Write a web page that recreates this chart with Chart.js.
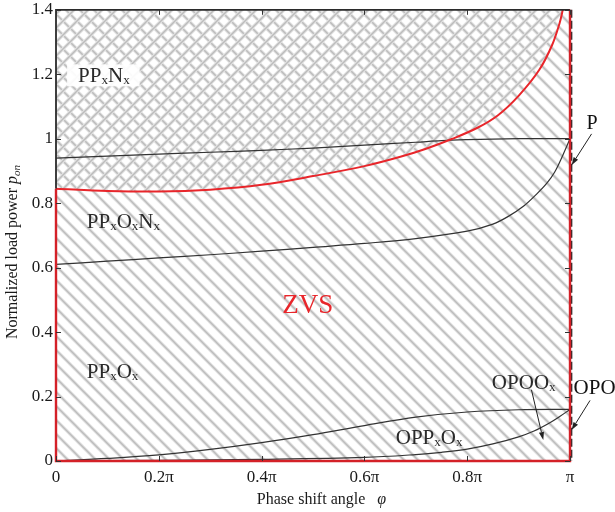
<!DOCTYPE html>
<html>
<head>
<meta charset="utf-8">
<script src="https://cdn.jsdelivr.net/npm/chart.js@4.4.0/dist/chart.umd.min.js"></script>
<style>
html,body{margin:0;padding:0;background:#fff;}
#wrap{width:615px;height:512px;position:relative;}
</style>
</head>
<body>
<div id="wrap"><canvas id="c" width="615" height="512"></canvas></div>
<script>
// ---------- data (phase shift in units of pi, normalized power) ----------
const xTickLabels = ['0', '0.2π', '0.4π', '0.6π', '0.8π', 'π'];
const yTickLabels = ['0', '0.2', '0.4', '0.6', '0.8', '1', '1.2', '1.4'];

// ZVS boundary (red)
const phiZvs = [0, 0.1, 0.2, 0.3, 0.4, 0.5, 0.6, 0.67, 0.72, 0.77, 0.82, 0.86, 0.9, 0.94, 0.965, 0.98, 0.986];
const pZvs   = [0.845, 0.838, 0.836, 0.842, 0.857, 0.884, 0.915, 0.944, 0.969, 0.999, 1.034, 1.073, 1.133, 1.213, 1.29, 1.36, 1.40];

// upper black boundary (PPxNx / P)
const phiUpper = [0, 0.1, 0.2, 0.3, 0.4, 0.5, 0.6, 0.7, 0.75, 0.8, 0.85, 0.9, 0.95, 1.0];
const pUpper   = [0.940, 0.946, 0.952, 0.958, 0.964, 0.971, 0.980, 0.989, 0.994, 0.997, 0.999, 1.0, 1.0, 1.0];

// middle black boundary (PPxOxNx)
const phiMid = [0, 0.1, 0.2, 0.3, 0.4, 0.5, 0.6, 0.7, 0.8, 0.85, 0.88, 0.91, 0.935, 0.955, 0.97, 0.985, 1.0];
const pMid   = [0.610, 0.620, 0.630, 0.640, 0.651, 0.663, 0.675, 0.690, 0.713, 0.735, 0.759, 0.791, 0.828, 0.862, 0.896, 0.945, 1.0];

// lower boundaries (OPPxOx, OPOOx)
const phiOppo = [0, 0.1, 0.2, 0.3, 0.4, 0.5, 0.6, 0.7, 0.8, 0.9, 1.0];
const pOppo   = [0.0, 0.008, 0.019, 0.036, 0.057, 0.082, 0.110, 0.136, 0.152, 0.159, 0.160];
const phiOpoo = [0, 0.2, 0.4, 0.6, 0.7, 0.75, 0.8, 0.85, 0.9, 0.93, 0.96, 0.98, 1.0];
const pOpoo   = [0.0, 0.002, 0.005, 0.011, 0.020, 0.027, 0.037, 0.053, 0.075, 0.093, 0.118, 0.138, 0.160];

// ---------- helpers ----------
const SERIF = '"Liberation Serif","Times New Roman",serif';
const pts = (xs, ys) => xs.map((x, i) => ({x: x, y: ys[i]}));

function hatchPattern(dir) {
  const s = 14;
  const c = document.createElement('canvas');
  c.width = s; c.height = s;
  const g = c.getContext('2d');
  const passes = [['#e4e4e4', 3.4], ['#bcbcbc', 1.5]];
  for (const [col, lw] of passes) {
    g.strokeStyle = col;
    g.lineWidth = lw;
    for (const k of [-s, 0, s]) {
      g.beginPath();
      if (dir > 0) { g.moveTo(k - 1, -1); g.lineTo(k + s + 1, s + 1); }
      else { g.moveTo(k - 1, s + 1); g.lineTo(k + s + 1, -1); }
      g.stroke();
    }
  }
  return g.createPattern(c, 'repeat');
}
const backHatch = hatchPattern(1);
const crossHatch = hatchPattern(-1);

function fontStr(seg) {
  return (seg.italic ? 'italic ' : '') + seg.size + 'px ' + SERIF;
}
function richWidth(ctx, segs) {
  let w = 0;
  for (const s of segs) { ctx.font = fontStr(s); s.w = ctx.measureText(s.t).width; w += s.w; }
  return w;
}
function drawRich(ctx, x, y, segs, color) {
  let cx = x;
  ctx.fillStyle = color;
  ctx.textBaseline = 'alphabetic';
  ctx.textAlign = 'left';
  for (const s of segs) {
    ctx.font = fontStr(s);
    ctx.fillText(s.t, cx, y + (s.dy || 0));
    cx += s.w;
  }
}
// label text with "_x" meaning subscript x
function segsFrom(str, size, subSize) {
  const out = [];
  const parts = str.split('_');
  out.push({t: parts[0], size: size});
  for (let i = 1; i < parts.length; i++) {
    out.push({t: parts[i][0], size: subSize, dy: 2});
    if (parts[i].length > 1) out.push({t: parts[i].slice(1), size: size});
  }
  return out;
}

// annotations: text positions in data coordinates
const annotations = [
  {text: 'PP_xN_x', phi: 0.043, p: 1.175, size: 21, color: '#2a2a2a', box: true},
  {text: 'PP_xO_xN_x', phi: 0.060, p: 0.722, size: 21, color: '#2a2a2a'},
  {text: 'PP_xO_x', phi: 0.060, p: 0.258, size: 21, color: '#2a2a2a'},
  {text: 'ZVS', phi: 0.440, p: 0.460, size: 27, color: '#e8262b'},
  {text: 'OPOO_x', phi: 0.848, p: 0.224, size: 21, color: '#2a2a2a'},
  {text: 'OPP_xO_x', phi: 0.661, p: 0.052, size: 21, color: '#2a2a2a'},
  {text: 'P', phi: 1.032, p: 1.031, size: 20, color: '#111'},
  {text: 'OPO', phi: 1.007, p: 0.208, size: 21, color: '#111'}
];
const arrows = [
  {from: [1.042, 1.015], to: [1.003, 0.918]},
  {from: [1.039, 0.188], to: [1.003, 0.096]},
  {from: [0.925, 0.221], to: [0.948, 0.065]}
];

const hatchPlugin = {
  id: 'hatchBg',
  beforeDraw(chart) {
    const {ctx, chartArea: a} = chart;
    ctx.save();
    ctx.fillStyle = '#fff';
    ctx.fillRect(0, 0, chart.width, chart.height);
    ctx.fillStyle = backHatch;
    ctx.fillRect(a.left, a.top, a.right - a.left, a.bottom - a.top);
    ctx.restore();
  }
};

const overlayPlugin = {
  id: 'overlay',
  afterDatasetsDraw(chart) {
    const {ctx, chartArea: a, scales: {x, y}} = chart;
    ctx.save();
    const yRedStart = y.getPixelForValue(pZvs[0]);
    ctx.lineCap = 'butt';
    ctx.strokeStyle = '#2b2b2b';
    ctx.lineWidth = 1.8;
    ctx.beginPath();
    ctx.moveTo(a.left, yRedStart); ctx.lineTo(a.left, a.top); ctx.lineTo(a.right, a.top);
    ctx.stroke();
    ctx.setLineDash([8, 3]);
    ctx.lineWidth = 1.5;
    ctx.beginPath();
    ctx.moveTo(a.right + 1.6, a.top); ctx.lineTo(a.right + 1.6, a.bottom);
    ctx.stroke();
    ctx.setLineDash([]);
    ctx.strokeStyle = '#d42128';
    ctx.lineWidth = 2.4;
    ctx.beginPath();
    ctx.moveTo(a.left, yRedStart); ctx.lineTo(a.left, a.bottom); ctx.lineTo(a.right, a.bottom); ctx.lineTo(a.right, a.top);
    ctx.stroke();
    ctx.strokeStyle = '#333';
    ctx.lineWidth = 1;
    ctx.beginPath();
    for (let v = 0; v <= 1.4001; v += 0.2) {
      const py = Math.round(y.getPixelForValue(v)) + 0.5;
      ctx.moveTo(a.left, py); ctx.lineTo(a.left + 5, py);
      ctx.moveTo(a.right - 5, py); ctx.lineTo(a.right, py);
    }
    for (let v = 0; v <= 1.0001; v += 0.2) {
      const px = Math.round(x.getPixelForValue(v)) + 0.5;
      ctx.moveTo(px, a.bottom); ctx.lineTo(px, a.bottom - 5);
      ctx.moveTo(px, a.top); ctx.lineTo(px, a.top + 5);
    }
    ctx.stroke();
    ctx.restore();
  },
  afterDraw(chart) {
    const {ctx, scales: {x, y}} = chart;
    ctx.save();
    for (const an of annotations) {
      const segs = segsFrom(an.text, an.size, Math.round(an.size * 0.62));
      const w = richWidth(ctx, segs);
      const px = x.getPixelForValue(an.phi), py = y.getPixelForValue(an.p);
      if (an.box) {
        ctx.fillStyle = 'rgba(255,255,255,0.92)';
        ctx.fillRect(px - 11, py - 18, w + 21, 22);
      }
      drawRich(ctx, px, py, segs, an.color);
    }
    ctx.strokeStyle = '#222';
    ctx.fillStyle = '#222';
    ctx.lineWidth = 1;
    for (const ar of arrows) {
      const x0 = x.getPixelForValue(ar.from[0]), y0 = y.getPixelForValue(ar.from[1]);
      const x1 = x.getPixelForValue(ar.to[0]), y1 = y.getPixelForValue(ar.to[1]);
      const ang = Math.atan2(y1 - y0, x1 - x0);
      const L = 8, W = 2.6;
      const bx = x1 - L * Math.cos(ang), by = y1 - L * Math.sin(ang);
      ctx.beginPath(); ctx.moveTo(x0, y0); ctx.lineTo(bx, by); ctx.stroke();
      ctx.beginPath();
      ctx.moveTo(x1, y1);
      ctx.lineTo(bx + W * Math.sin(ang), by - W * Math.cos(ang));
      ctx.lineTo(bx - W * Math.sin(ang), by + W * Math.cos(ang));
      ctx.closePath(); ctx.fill();
    }
    const xt = [{t: 'Phase shift angle', size: 16}, {t: '   ', size: 16}, {t: 'φ', size: 16, italic: true}];
    const wx = richWidth(ctx, xt);
    drawRich(ctx, 321.5 - wx / 2, 504, xt, '#1a1a1a');
    const yt = [{t: 'Normalized load power ', size: 16}, {t: 'p', size: 16, italic: true}, {t: 'on', size: 11, italic: true, dy: 3}];
    const wy = richWidth(ctx, yt);
    ctx.translate(17, 252);
    ctx.rotate(-Math.PI / 2);
    drawRich(ctx, -wy / 2, 0, yt, '#1a1a1a');
    ctx.restore();
  }
};

const lineDs = (label, xs, ys, color, width, extra) => Object.assign({
  label: label, data: pts(xs, ys), borderColor: color, borderWidth: width,
  pointRadius: 0, fill: false, tension: 0.35
}, extra || {});

new Chart(document.getElementById('c').getContext('2d'), {
  type: 'line',
  data: {
    datasets: [
      lineDs('ZVS boundary', phiZvs, pZvs, '#e8262b', 2, {fill: 'end', backgroundColor: crossHatch}),
      lineDs('Upper', phiUpper, pUpper, '#333', 1.2),
      lineDs('Middle', phiMid, pMid, '#333', 1.2),
      lineDs('OPPxOx', phiOppo, pOppo, '#333', 1.2),
      lineDs('OPOOx', phiOpoo, pOpoo, '#333', 1.2)
    ]
  },
  options: {
    responsive: false,
    animation: false,
    events: [],
    layout: {padding: {top: 7, right: 45, left: 0, bottom: 0}},
    plugins: {
      legend: {display: false},
      tooltip: {enabled: false},
      filler: {drawTime: 'beforeDatasetsDraw'}
    },
    scales: {
      x: {
        type: 'linear', min: 0, max: 1,
        grid: {display: false, drawTicks: false},
        border: {display: false},
        ticks: {
          stepSize: 0.2, padding: 6, color: '#1a1a1a', maxRotation: 0, autoSkip: false,
          font: {family: SERIF, size: 17},
          callback: (v, i) => xTickLabels[i] !== undefined ? xTickLabels[i] : String(v)
        },
        afterFit: (s) => { s.height = 51; }
      },
      y: {
        type: 'linear', min: 0, max: 1.4,
        grid: {display: false, drawTicks: false},
        border: {display: false},
        ticks: {
          stepSize: 0.2, padding: 3, color: '#1a1a1a', autoSkip: false,
          font: {family: SERIF, size: 17, lineHeight: 0.8},
          callback: (v, i) => yTickLabels[i] !== undefined ? yTickLabels[i] : String(v)
        },
        afterFit: (s) => { s.width = 56; }
      }
    }
  },
  plugins: [hatchPlugin, overlayPlugin]
});
</script>
</body>
</html>
